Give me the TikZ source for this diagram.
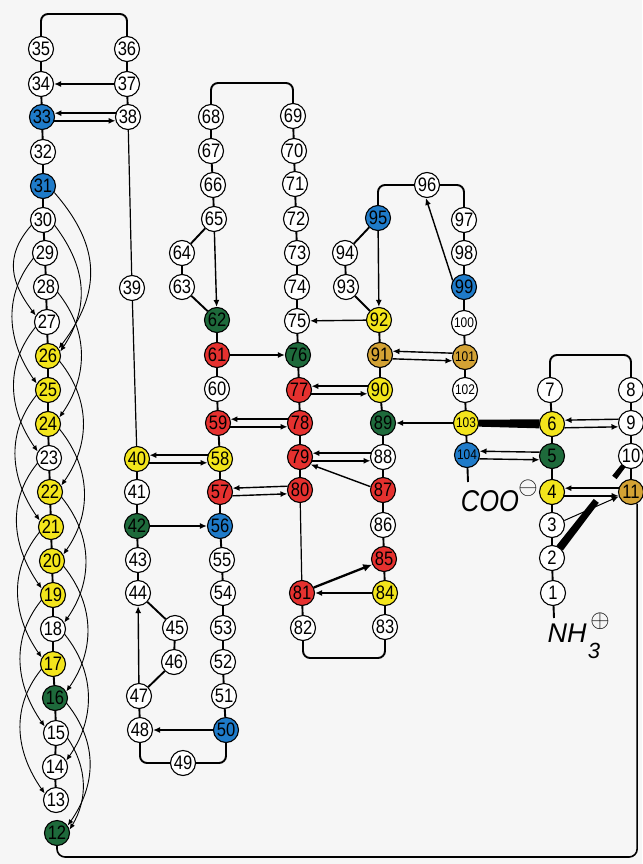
\documentclass[tikz,border=0pt]{standalone}
\usepackage{fontspec}
\setmainfont{Liberation Sans}
\newfontfamily\numfont{Liberation Sans}[FakeStretch=0.85]
\newfontfamily\lblfont{Liberation Sans}[FakeStretch=0.85]
\usetikzlibrary{arrows.meta,calc}
\definecolor{bgc}{HTML}{F6F6F6}
\definecolor{cB}{HTML}{1F7BC9}
\definecolor{cY}{HTML}{F3E51C}
\definecolor{cG}{HTML}{1E6A3B}
\definecolor{cR}{HTML}{E5312F}
\definecolor{cO}{HTML}{D3A234}
\begin{document}
\begin{tikzpicture}[x=1pt,y=-1pt,
  res/.style={circle,draw=black,line width=1.1pt,minimum size=25pt,inner sep=0pt,font=\numfont\fontsize{19.5}{19.5}\selectfont},
  resthree/.style={res,font=\numfont\fontsize{14}{14}\selectfont},
  chain/.style={line width=1.9pt},
  link/.style={line width=1.2pt},
  arr/.style={line width=1.4pt,-{Latex[length=7pt,width=6pt]}},
  hb/.style={line width=0.9pt,-{Latex[length=6pt,width=5pt]}},
  lbl/.style={inner sep=0pt,font=\lblfont\itshape\fontsize{30}{30}\selectfont}]
\fill[bgc] (0,0) rectangle (642,864);
\useasboundingbox (0,0) rectangle (642,864);

% ---------- residues ----------
\foreach \n/\x/\y/\c in {
 1/553/593/white, 2/552/558/white, 3/552/525/white, 7/550/390/white, 8/631/390/white,
 9/631/423/white, 10/631/456/white,
 13/56/800/white, 14/55/767/white, 15/56/733/white, 18/53/629/white, 23/49/458/white,
 27/47/322/white, 28/46/287/white, 29/45/253/white, 30/43/220/white, 32/43/152/white,
 34/41/84/white, 35/41/49/white,
 36/127/49/white, 37/127/84/white, 38/128/117/white, 39/132/288/white, 41/137/492/white,
 43/138/560/white, 44/138/593/white, 45/175/628/white, 46/174/662/white, 47/139/696/white,
 48/140/730/white, 49/183/763/white, 51/224/696/white, 52/223/662/white, 53/223/628/white,
 54/223/593/white, 55/222/560/white, 60/217/389/white, 63/182/287/white, 64/182/253/white,
 65/214/219/white, 66/213/185/white, 67/211/151/white, 68/211/117/white,
 69/293/116/white, 70/294/151/white, 71/295/184/white, 72/296/219/white, 73/297/253/white,
 74/297/287/white, 75/297/321/white, 82/303/628/white, 83/385/627/white, 86/383/525/white,
 88/383/457/white, 93/346/287/white, 94/345/253/white, 96/427/185/white, 97/464/220/white,
 98/464/253/white,
 31/43/186/cB, 33/42/117/cB, 50/226/730/cB, 56/220/526/cB, 95/378/218/cB, 99/464/287/cB,
 4/552/492/cY, 6/552/424/cY, 17/53/664/cY, 19/53/595/cY, 20/52/561/cY, 21/51/527/cY,
 22/50/492/cY, 24/48/424/cY, 25/48/390/cY, 26/48/356/cY, 40/137/459/cY, 58/220/459/cY,
 84/385/593/cY, 90/380/390/cY, 92/379/320/cY,
 5/552/456/cG, 12/57/833/cG, 16/55/698/cG, 42/137/526/cG, 62/217/320/cG, 76/298/355/cG,
 89/383/423/cG,
 57/220/492/cR, 59/218/423/cR, 61/217/355/cR, 77/299/390/cR, 78/300/423/cR, 79/300/457/cR,
 80/300/490/cR, 81/302/593/cR, 85/384/559/cR, 87/383/490/cR,
 11/631/492/cO, 91/380/355/cO}
  \node[res,fill=\c] (n\n) at (\x,\y) {\n};
\foreach \n/\x/\y/\c in {100/464/323/white, 101/465/357/cO, 102/465/390/white,
 103/466/423/cY, 104/467/455/cB}
  \node[resthree,fill=\c] (n\n) at (\x,\y) {\n};

% ---------- backbone ----------
\foreach \s/\e in {13/35,36/38,40/48,50/68,69/80,81/82,83/95,97/104,1/7,8/11}{
  \pgfmathtruncatemacro\ee{\e-1}
  \foreach \i in {\s,...,\ee}{
    \pgfmathtruncatemacro\j{\i+1}
    \draw[chain] (n\i) -- (n\j);
  }
}
\draw[link] (n38) -- (n39);
\draw[link] (n39) -- (n40);
\draw[link] (n80) -- (n81);

\coordinate (yA) at (0,14);
\coordinate (yB) at (0,83);
\coordinate (yC) at (0,185);
\coordinate (yD) at (0,355);
\coordinate (yE) at (0,763);
\coordinate (yF) at (0,658);
\coordinate (yG) at (0,857);
\coordinate (c11) at (n11.-62);
\coordinate (e104) at (468,482);
\coordinate (e1) at (554,618);

\draw[chain,rounded corners=7pt] (n35) -- (n35 |- yA) -- (n36 |- yA) -- (n36);
\draw[chain,rounded corners=7pt] (n68) -- (n68 |- yB) -- (n69 |- yB) -- (n69);
\draw[chain,rounded corners=7pt] (n95) -- (n95 |- yC) -- (n96);
\draw[chain,rounded corners=7pt] (n96) -- (n97 |- yC) -- (n97);
\draw[chain,rounded corners=7pt] (n7) -- (n7 |- yD) -- (n8 |- yD) -- (n8);
\draw[chain,rounded corners=7pt] (n48) -- (n48 |- yE) -- (n49);
\draw[chain,rounded corners=7pt] (n49) -- (n50 |- yE) -- (n50);
\draw[chain,rounded corners=7pt] (n82) -- (n82 |- yF) -- (n83 |- yF) -- (n83);
\draw[line width=1.6pt,rounded corners=8pt] (n12) -- (n12 |- yG) -- (c11 |- yG) -- (c11);
\draw[chain] (n104) -- (e104);
\draw[chain] (n1) -- (e1);

% ---------- paired arrows ----------
\foreach \a/\b in {33/38,40/58,59/78,57/80,77/90,79/88,91/101,104/5,6/9,4/11}{
  \draw[arr] (n\b.163) -- (n\a.17);
  \draw[arr] (n\a.-17) -- (n\b.197);
}
% ---------- single arrows ----------
\foreach \a/\b in {37/34,42/56,50/48,61/76,84/81,92/75,103/89,47/44,65/62,95/92}
  \draw[arr] (n\a) -- (n\b);
\draw[arr] (n99.150) -- (n96.-95);
\draw[arr] (n87.165) -- (n79.-35);
\draw[line width=2.3pt,-{Latex[length=9pt,width=8pt]}] (n81.25) -- (n85.205);

% ---------- wedges ----------
\fill ($(n103)!12.5pt!(n6)!3.5pt!90:(n6)$) -- ($(n6)!12.5pt!(n103)!4.5pt!-90:(n103)$)
   -- ($(n6)!12.5pt!(n103)!4.5pt!90:(n103)$) -- ($(n103)!12.5pt!(n6)!3.5pt!-90:(n6)$) -- cycle;
\fill ($(n2)!0.097!(n10)!4pt!90:(n10)$) -- ($(n2)!0.56!(n10)!3.2pt!90:(n10)$)
   -- ($(n2)!0.56!(n10)!3.2pt!-90:(n10)$) -- ($(n2)!0.097!(n10)!4pt!-90:(n10)$) -- cycle;
\fill ($(n2)!0.79!(n10)!2.8pt!90:(n10)$) -- ($(n2)!0.903!(n10)!2.5pt!90:(n10)$)
   -- ($(n2)!0.903!(n10)!2.5pt!-90:(n10)$) -- ($(n2)!0.79!(n10)!2.8pt!-90:(n10)$) -- cycle;
\draw[line width=1pt,-{Latex[length=7pt,width=6pt]}] (n3.20) -- (n11.200);

% ---------- helix hydrogen bonds ----------
\foreach \s/\t in {29/25,27/23,25/21,23/19,21/17,19/15,17/13}
  \draw[hb] (n\s.205) .. controls +(-32,40) and +(-28,-40) .. (n\t.150);
\draw[hb] (n30.205) .. controls +(-28,32) and +(-24,-32) .. (n27.150);
\foreach \s/\t in {28/24,26/22,24/20,22/18,20/16,18/14}
  \draw[hb] (n\s.-25) .. controls +(32,40) and +(28,-40) .. (n\t.30);
\draw[hb] (n31.-30) .. controls +(48,55) and +(42,-55) .. (n26.35);
\draw[hb] (n30.-25) .. controls +(34,45) and +(28,-42) .. (n26.20);
\draw[hb] (n16.-25) .. controls +(32,40) and +(28,-40) .. (n12.35);
\draw[hb] (n15.-25) .. controls +(20,30) and +(18,-30) .. (n12.15);

% ---------- termini ----------
\node[lbl] (coo) at (490,501) {COO};
\node[inner sep=0pt] (coom) at (528,488) {\fontsize{23}{23}\selectfont$\ominus$};
\node[inner sep=0pt,font=\itshape\fontsize{27}{27}\selectfont] (nh) at (567,633) {NH};
\node[inner sep=0pt,font=\itshape\fontsize{22}{22}\selectfont] (nh3) at (594,651) {3};
\node[inner sep=0pt] (nhp) at (600,621) {\fontsize{23}{23}\selectfont$\oplus$};
\end{tikzpicture}
\end{document}
